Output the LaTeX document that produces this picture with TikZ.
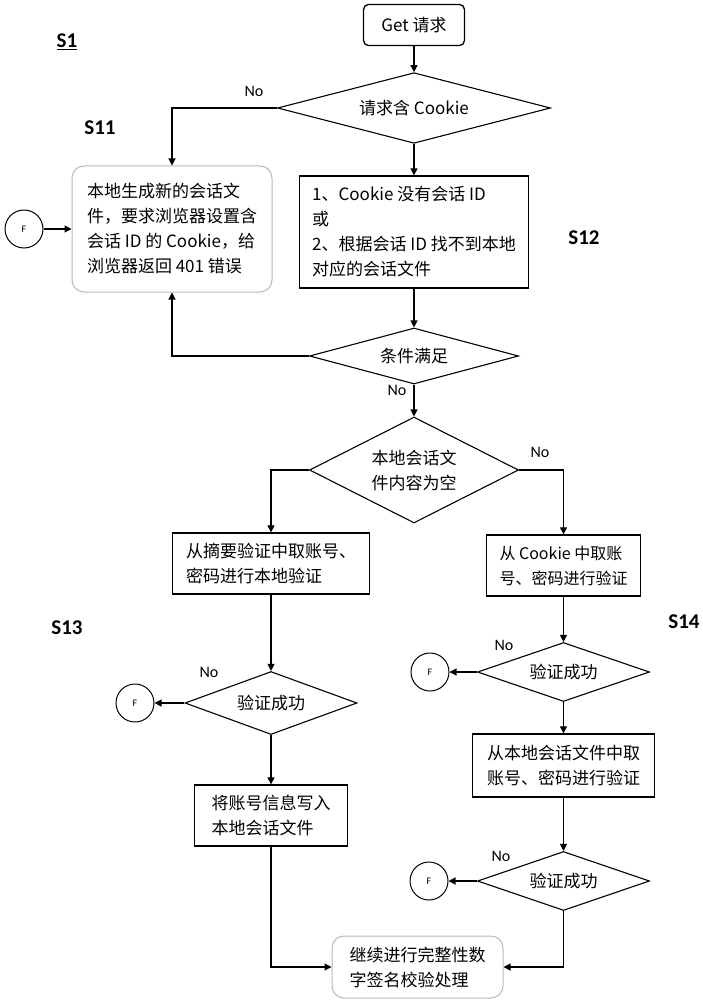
\documentclass[tikz,border=0pt]{standalone}
\usepackage{fontspec}
\setmainfont{Noto Sans CJK SC}
\newfontfamily\labfont{Carlito}
\usetikzlibrary{shapes.geometric,arrows.meta}
\begin{document}
\begin{tikzpicture}[x=1pt,y=-1pt,
  txt/.style={font=\fontsize{17}{25}\selectfont},
  box/.style={txt, draw, line width=1.3pt, align=left, inner sep=0pt},
  rbox/.style={box, rounded corners=12pt, draw=gray!55, line width=1pt},
  dia/.style={txt, diamond, draw, line width=1.1pt, aspect=2, inner sep=0pt, align=center},
  fc/.style={circle, draw, line width=1pt, minimum size=38pt, inner sep=0pt, font=\labfont\fontsize{10}{12}\selectfont},
  arr/.style={line width=1.1pt, -{Triangle[length=7pt,width=7pt]}},
  ln/.style={line width=1.1pt},
  steplab/.style={font=\labfont\bfseries\fontsize{21}{24}\selectfont},
  nolab/.style={font=\labfont\fontsize{16}{18}\selectfont}]
\useasboundingbox[fill=white] (0,0) rectangle (702,1000);

% labels
\node[steplab] (ls1) at (67,42) {\underline{S1}};
\node[steplab] (ls11) at (100,128) {S11};
\node[steplab] (ls12) at (584,238) {S12};
\node[steplab] (ls13) at (67,628) {S13};
\node[steplab] (ls14) at (684,622) {S14};

% nodes
\node[box, rounded corners=5pt, minimum width=101pt, minimum height=41pt, align=center] (get) at (414,25) {Get 请求};
\node[dia, minimum width=273pt, minimum height=56pt] (d1) at (414,108) {请求含 Cookie};
\node[rbox, minimum width=200pt, minimum height=126pt] (s11) at (172,229) {本地生成新的会话文\\件，要求浏览器设置含\\会话 ID 的 Cookie，给\\浏览器返回 401 错误};
\node[box, minimum width=229pt, minimum height=112pt] (s12) at (414,232) {1、Cookie 没有会话 ID\\或\\2、根据会话 ID 找不到本地\\对应的会话文件};
\node[dia, minimum width=209pt, minimum height=56pt] (d2) at (414,356) {条件满足};
\node[dia, minimum width=209pt, minimum height=106pt] (d3) at (414,470) {本地会话文\\件内容为空};
\node[box, minimum width=197pt, minimum height=61pt] (bl) at (271,563.5) {从摘要验证中取账号、\\密码进行本地验证};
\node[box, minimum width=154pt, minimum height=61pt, font=\fontsize{16}{25}\selectfont] (br) at (563.5,565.5) {从 Cookie 中取账\\号、密码进行验证};
\node[dia, minimum width=172pt, minimum height=63pt] (dl) at (271,703) {验证成功};
\node[box, minimum width=153pt, minimum height=61pt] (bl2) at (271,815.5) {将账号信息写入\\本地会话文件};
\node[dia, minimum width=172pt, minimum height=59pt] (dr1) at (563.5,672) {验证成功};
\node[box, minimum width=182pt, minimum height=63pt] (br2) at (563.5,765.5) {从本地会话文件中取\\账号、密码进行验证};
\node[dia, minimum width=172pt, minimum height=59pt] (dr2) at (563.5,881) {验证成功};
\node[rbox, minimum width=171pt, minimum height=62pt] (fin) at (417.5,967) {继续进行完整性数\\字签名校验处理};

\node[fc] (f0) at (24,229) {F};
\node[fc] (fl) at (135,703) {F};
\node[fc] (fr1) at (430,672) {F};
\node[fc] (fr2) at (429,881) {F};

% No labels
\node[nolab] (n1) at (254,91) {No};
\node[nolab] (n2) at (397,390) {No};
\node[nolab] (n3) at (540,452) {No};
\node[nolab] (n4) at (209,672) {No};
\node[nolab] (n5) at (504,645) {No};
\node[nolab] (n6) at (501,856) {No};

% connectors
\draw[arr] (get) -- (d1);
\draw[arr] (d1.west) -| (s11.north);
\draw[arr] (d1) -- (s12);
\draw[arr] (f0) -- (s11);
\draw[arr] (s12) -- (d2);
\draw[arr] (d2.west) -| (s11.south);
\draw[arr] (d2) -- (d3);
\draw[arr] (d3.west) -| (bl.north);
\draw[arr] (d3.east) -| (br.north);
\draw[arr] (bl) -- (dl);
\draw[arr] (dl.west) -- (fl.east);
\draw[arr] (dl) -- (bl2);
\draw[arr] (bl2.south) |- (fin.west);
\draw[arr] (br) -- (dr1);
\draw[arr] (dr1.west) -- (fr1.east);
\draw[arr] (dr1) -- (br2);
\draw[arr] (br2) -- (dr2);
\draw[arr] (dr2.west) -- (fr2.east);
\draw[arr] (dr2.south) |- (fin.east);
\end{tikzpicture}
\end{document}
